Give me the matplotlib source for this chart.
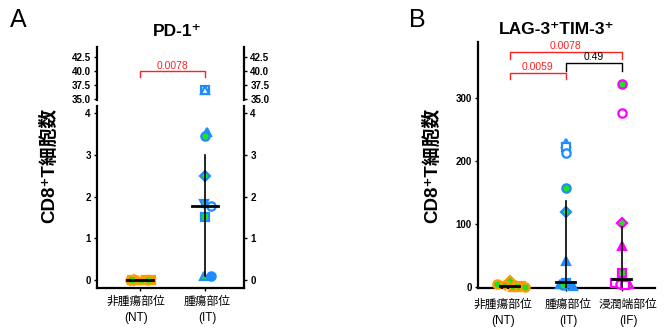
import numpy as np
import matplotlib
matplotlib.use('Agg')
import matplotlib.pyplot as plt
from matplotlib.transforms import blended_transform_factory

FAM = ['Liberation Sans', 'Noto Sans CJK JP', 'DejaVu Sans']
plt.rcParams['font.family'] = FAM

# ---------------- data ----------------
a_categories = ['非腫瘍部位\n(NT)', '腫瘍部位\n(IT)']
a_nt_values = [0, 0, 0, 0, 0, 0, 0, 0]
a_it_values = [36.6, 36.6, 3.55, 3.45, 2.5, 1.83, 1.78, 1.5, 0.1, 0.1]
a_medians = [0.0, 1.78]
a_whisker_low = [0.0, 0.1]
a_whisker_high = [0.0, 3.0]
a_pvalue = '0.0078'

b_categories = ['非腫瘍部位\n(NT)', '腫瘍部位\n(IT)', '浸潤端部位\n(IF)']
b_nt_values = [5, 10, 3, 1.5, 1, 0.5, 0.5, 0.3]
b_it_values = [228, 222, 212, 157, 119, 42, 6, 4, 3, 2]
b_if_values = [323, 277, 102, 65, 22, 6, 5, 4, 3]
b_medians = [1.5, 8, 12]
b_whisker_low = [0, 0, 0]
b_whisker_high = [0, 137, 95]
b_pvalues = ['0.0059', '0.49', '0.0078']

# ---------------- styles ----------------
BLUE = '#1E8CFF'
GREEN = '#22E01E'
ORANGE = '#FF9A00'
MAG = '#FF00FF'
RED = '#FF2020'
W = 'white'

a_nt_style = [('o', GREEN, ORANGE, -0.16), ('D', GREEN, ORANGE, -0.09), ('^', GREEN, ORANGE, -0.03),
              ('s', GREEN, ORANGE, 0.17), ('v', GREEN, ORANGE, 0.09), ('o', GREEN, ORANGE, 0.12),
              ('s', GREEN, ORANGE, -0.12), ('^', GREEN, ORANGE, 0.03)]
a_it_style = [('s', W, BLUE, 0.0), ('^', W, BLUE, 0.0), ('^', BLUE, BLUE, 0.03), ('o', GREEN, BLUE, 0.0),
              ('D', GREEN, BLUE, 0.0), ('v', GREEN, BLUE, -0.02), ('o', W, BLUE, 0.09),
              ('s', GREEN, BLUE, 0.0), ('^', GREEN, BLUE, -0.02), ('o', BLUE, BLUE, 0.1)]
b_nt_style = [('o', GREEN, ORANGE, -0.23), ('D', GREEN, ORANGE, 0.0), ('^', GREEN, ORANGE, 0.1),
              ('s', GREEN, ORANGE, 0.2), ('v', GREEN, ORANGE, -0.08), ('o', GREEN, ORANGE, 0.27),
              ('s', GREEN, ORANGE, 0.12), ('^', GREEN, ORANGE, 0.05)]
b_it_style = [('^', W, BLUE, 0.0), ('s', W, BLUE, 0.0), ('o', W, BLUE, 0.0), ('o', GREEN, BLUE, 0.0),
              ('D', GREEN, BLUE, 0.0), ('^', BLUE, BLUE, 0.0), ('s', BLUE, BLUE, 0.0),
              ('^', BLUE, BLUE, -0.1), ('o', GREEN, BLUE, -0.05), ('^', BLUE, BLUE, 0.12)]
b_if_style = [('o', GREEN, MAG, 0.0), ('o', W, MAG, 0.0), ('D', GREEN, MAG, 0.0), ('^', MAG, MAG, 0.0),
              ('s', GREEN, MAG, 0.0), ('s', W, MAG, -0.12), ('o', W, MAG, -0.03),
              ('^', GREEN, MAG, 0.12), ('s', W, MAG, 0.05)]

fig = plt.figure(figsize=(6.7, 3.34), dpi=100)

def px(x0, y0, x1, y1):
    return [x0 / 670, 1 - y1 / 334, (x1 - x0) / 670, (y1 - y0) / 334]

def scatter(ax, xc, vals, styles, ms=6.0):
    for v, (m, fc, ec, dx) in zip(vals, styles):
        ax.plot(xc + dx, v, marker=m, ms=ms if m != 'D' else ms * 0.85, mfc=fc, mec=ec,
                mew=1.6, ls='none', zorder=3, clip_on=False)

def tickfmt(ax):
    ax.tick_params(axis='y', labelsize=7, length=2.5, width=1, pad=2)
    for t in ax.get_yticklabels():
        t.set_fontweight('bold')

def catlabels(ax, labels, xpix):
    ax.set_xticklabels([])
    tr = blended_transform_factory(fig.transFigure, ax.transAxes)
    for lab, xp in zip(labels, xpix):
        ax.text(xp / 670, -0.045, lab, transform=tr, ha='center', va='top',
                fontsize=8.5, linespacing=1.45)

# ---------------- Panel A ----------------
axU = fig.add_axes(px(97, 47, 244, 100))
axL = fig.add_axes(px(97, 106, 244, 288))
for ax in (axU, axL):
    ax.set_xlim(-0.66, 1.6)
    for s in ('left', 'right'):
        ax.spines[s].set_linewidth(1.6)
    ax.spines['top'].set_visible(False)
    ax.tick_params(axis='y', right=True, labelright=True)
axU.spines['bottom'].set_visible(False)
axU.set_xticks([])
axL.spines['bottom'].set_linewidth(1.6)
axU.set_ylim(34.8, 44.3)
axU.set_yticks([35.0, 37.5, 40.0, 42.5])
axU.set_yticklabels(['35.0', '37.5', '40.0', '42.5'])
axL.set_ylim(-0.19, 4.17)
axL.set_yticks([0, 1, 2, 3, 4])
tickfmt(axU)
tickfmt(axL)
axL.set_xticks([0, 1])
axL.tick_params(axis='x', length=2, width=1)
catlabels(axL, a_categories, [136, 207])

for i in range(2):
    axL.plot([i, i], [a_whisker_low[i], a_whisker_high[i]], color='black', lw=1.2, zorder=4)
scatter(axL, 0, a_nt_values, a_nt_style)
scatter(axL, 1, [v for v in a_it_values if v < 10], [s for v, s in zip(a_it_values, a_it_style) if v < 10])
scatter(axU, 1, [v for v in a_it_values if v >= 10], [s for v, s in zip(a_it_values, a_it_style) if v >= 10])
for i in range(2):
    axL.plot([i - 0.2, i + 0.2], [a_medians[i]] * 2, color='black', lw=2, zorder=5)
# bracket
axU.plot([0, 0, 1, 1], [38.9, 40.0, 40.0, 38.9], color=RED, lw=1)
axU.text(0.5, 40.05, a_pvalue, color=RED, ha='center', va='bottom', fontsize=7.5)

fig.text(177 / 670, 1 - 31 / 334, 'PD-1⁺', ha='center', va='center', fontsize=12.5, fontweight='bold')
fig.text(18 / 670, 1 - 20 / 334, 'A', ha='center', va='center', fontsize=18)
fig.text(49 / 670, 1 - 165 / 334, 'CD8⁺T細胞数', rotation=90, ha='center', va='center',
         fontsize=13.5, fontweight='bold')

# ---------------- Panel B ----------------
axB = fig.add_axes(px(478, 42, 655, 288))
axB.set_xlim(-0.57, 2.59)
axB.set_ylim(-1.6, 389)
for s in ('top', 'right'):
    axB.spines[s].set_visible(False)
for s in ('left', 'bottom'):
    axB.spines[s].set_linewidth(1.6)
axB.set_yticks([0, 100, 200, 300])
tickfmt(axB)
axB.set_xticks([0, 1, 2])
axB.tick_params(axis='x', length=2, width=1)
catlabels(axB, b_categories, [503, 568, 628])

for i in range(3):
    axB.plot([i, i], [b_whisker_low[i], b_whisker_high[i]], color='black', lw=1.2, zorder=4)
scatter(axB, 0, b_nt_values, b_nt_style)
scatter(axB, 1, b_it_values, b_it_style)
scatter(axB, 2, b_if_values, b_if_style)
for i in range(3):
    axB.plot([i - 0.17, i + 0.17], [b_medians[i]] * 2, color='black', lw=2, zorder=5)

def bracket(ax, x0, x1, y, yl, txt, col):
    ax.plot([x0, x0, x1, x1], [yl, y, y, yl], color=col, lw=1, clip_on=False)
    ax.text((x0 + x1) / 2, y + 2, txt, color=col, ha='center', va='bottom', fontsize=7.5)

bracket(axB, 0, 1, 340, 330, b_pvalues[0], RED)
bracket(axB, 1, 2, 356, 343, b_pvalues[1], 'black')
bracket(axB, 0, 2, 373, 362, b_pvalues[2], RED)

fig.text(557 / 670, 1 - 30 / 334, 'LAG-3⁺TIM-3⁺', ha='center', va='center', fontsize=12.5, fontweight='bold')
fig.text(417 / 670, 1 - 20 / 334, 'B', ha='center', va='center', fontsize=18)
fig.text(432 / 670, 1 - 165 / 334, 'CD8⁺T細胞数', rotation=90, ha='center', va='center',
         fontsize=13.5, fontweight='bold')

fig.savefig('out.png', dpi=100)
